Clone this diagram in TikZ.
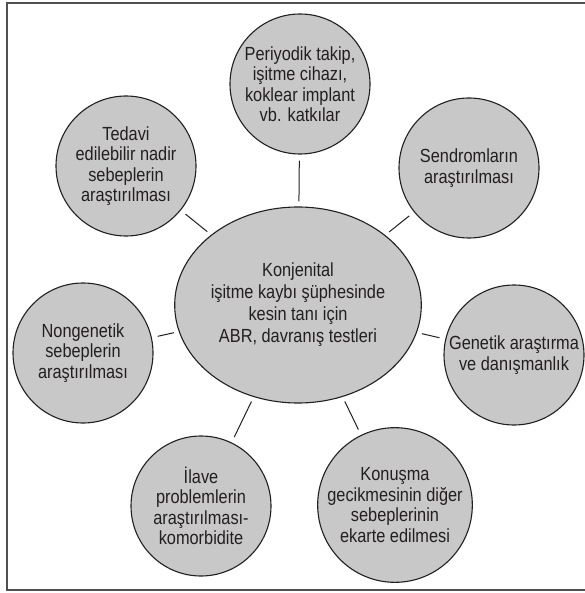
\documentclass[tikz,border=0pt]{standalone}
\usepackage{fontspec}
\setmainfont{Liberation Sans}[FakeStretch=0.86]
\usetikzlibrary{shapes.geometric}
\definecolor{fillgray}{HTML}{C8C8C8}
\definecolor{ink}{HTML}{231F20}
\definecolor{framegray}{HTML}{505050}
\begin{document}
\begin{tikzpicture}[x=1pt,y=-1pt,
  bubble/.style={circle, draw=ink, line width=1.1pt, fill=fillgray, minimum size=140pt, inner sep=0pt, align=center, text=ink, font=\fontsize{19}{20.5}\selectfont},
  hub/.style={ellipse, draw=ink, line width=1.1pt, fill=fillgray, minimum width=222pt, minimum height=196pt, inner sep=0pt, align=center, text=ink, font=\fontsize{19}{22}\selectfont},
  link/.style={draw=ink, line width=1pt, shorten <=5pt, shorten >=6pt}]
\useasboundingbox (0,0) rectangle (584,593);
\draw[framegray, line width=1.6pt] (590,3) -- (7,3) -- (7,590) -- (590,590);
\node[hub] (E) at (298,305) {Konjenital\\işitme kaybı şüphesinde\\kesin tanı için\\ABR, davranış testleri};
\node[bubble] (P) at (300,84) {Periyodik takip,\\işitme cihazı,\\koklear implant\\vb. katkılar};
\node[bubble] (S) at (469,168) {Sendromların\\araştırılması};
\node[bubble] (G) at (514,355) {Genetik araştırma\\ve danışmanlık};
\node[bubble] (K) at (395,505) {Konuşma\\gecikmesinin diğer\\sebeplerinin\\ekarte edilmesi};
\node[bubble] (I) at (201,506) {İlave\\problemlerin\\araştırılması-\\komorbidite};
\node[bubble] (N) at (83,353) {Nongenetik\\sebeplerin\\araştırılması};
\node[bubble] (T) at (126,166) {Tedavi\\edilebilir nadir\\sebeplerin\\araştırılması};
\draw[link] (E) -- (P);
\draw[link] (E) -- (S);
\draw[link] (E) -- (G);
\draw[link] (E) -- (K);
\draw[link] (E) -- (I);
\draw[link] (E) -- (N);
\draw[link] (E) -- (T);
\end{tikzpicture}
\end{document}
